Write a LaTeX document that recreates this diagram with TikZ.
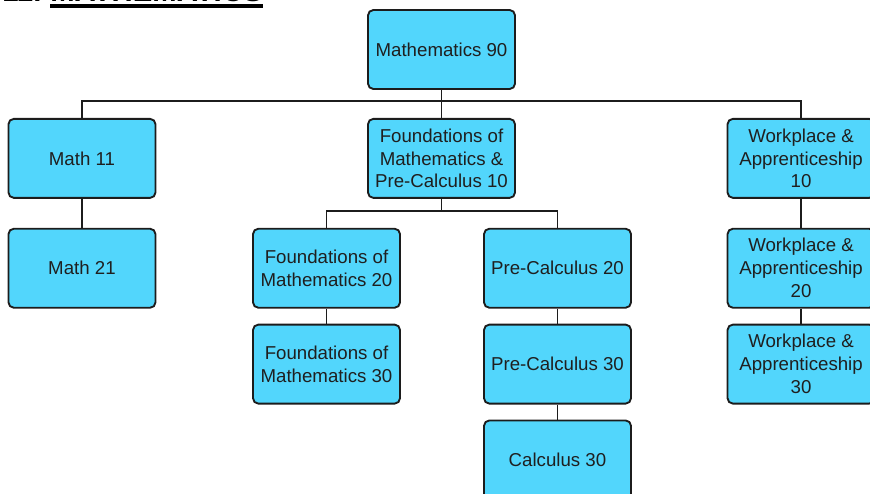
\documentclass[tikz,border=0pt]{standalone}
\usepackage{fontspec}
\setmainfont{Liberation Sans}
\usetikzlibrary{positioning}
\definecolor{boxblue}{RGB}{82,214,252}
\definecolor{boxline}{RGB}{28,28,28}

\begin{document}
\begin{tikzpicture}[
    x=0.75pt, y=-0.75pt,
    node distance=21pt and 158pt,
    course/.style={draw=boxline, fill=boxblue, rounded corners=4pt, line width=1.4pt, text=black!88,
      minimum width=110.25pt, minimum height=59.25pt, align=center, inner sep=2pt,
      font=\fontsize{14}{17.2}\selectfont},
    heading/.style={anchor=base west, inner sep=0pt, font=\fontsize{22}{26}\selectfont\bfseries},
    link/.style={draw=boxline, line width=1.1pt}
]

\useasboundingbox (0,0) rectangle (870,493);

% title line, cut off by the top edge
\node[heading] (num) at (2,1) {11.};
\node[heading] (title) at (50,1) {MATHEMATICS};
\draw[line width=3pt] ([yshift=-4pt]title.base west) -- ([yshift=-4pt]title.base east);

\node[course] (m90) at (441.5,49.5) {Mathematics 90};

\node[course, below=of m90] (fp10) {Foundations of\\Mathematics \&\\Pre-Calculus 10};
\node[course, left=of fp10] (m11) {Math 11};
\node[course, right=of fp10] (w10) {Workplace \&\\Apprenticeship\\10};

\node[course, below=21.75pt of m11] (m21) {Math 21};
\node[course, below=21.75pt of fp10, xshift=-86.25pt] (f20) {Foundations of\\Mathematics 20};
\node[course, below=21.75pt of fp10, xshift=87pt] (p20) {Pre-Calculus 20};
\node[course, below=21.75pt of w10] (w20) {Workplace \&\\Apprenticeship\\20};

\node[course, below=11.25pt of f20] (f30) {Foundations of\\Mathematics 30};
\node[course, below=11.25pt of p20] (p30) {Pre-Calculus 30};
\node[course, below=11.25pt of w20] (w30) {Workplace \&\\Apprenticeship\\30};
\node[course, below=11.25pt of p30] (c30) {Calculus 30};

% tree lines
\draw[link] (m90) -- (fp10);
\draw[link] (m11.north) |- ([yshift=-8.25pt]m90.south) -| (w10.north);
\draw[link] (fp10.south) -- ([yshift=-9pt]fp10.south);
\draw[link] (f20.north) |- ([yshift=-9pt]fp10.south) -| (p20.north);

\foreach \a/\b in {m11/m21, f20/f30, p20/p30, p30/c30, w10/w20, w20/w30}
  \draw[link] (\a) -- (\b);

\end{tikzpicture}
\end{document}
